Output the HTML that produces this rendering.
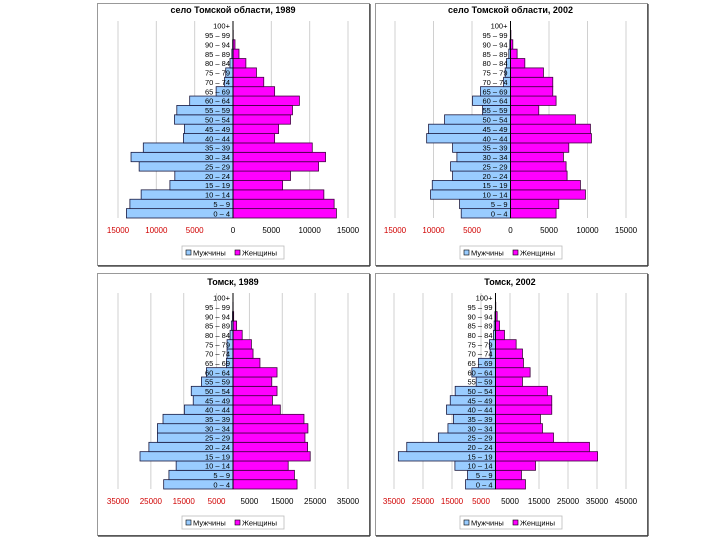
<!DOCTYPE html>
<html><head><meta charset="utf-8"><style>
html,body{margin:0;padding:0;background:#fff;}
svg{display:block;font-family:"Liberation Sans",sans-serif;}
</style></head><body>
<svg id="chart" width="720" height="540" viewBox="0 0 720 540"></svg>
<script>
const ageGroups = ["0 – 4","5 – 9","10 – 14","15 – 19","20 – 24","25 – 29","30 – 34","35 – 39","40 – 44","45 – 49","50 – 54","55 – 59","60 – 64","65 – 69","70 – 74","75 – 79","80 – 84","85 – 89","90 – 94","95 – 99","100+"];
const village1989Men   = [13900,13450,11980,8230,7590,12240,13300,11700,6470,6340,7630,7330,5650,2200,1100,950,400,150,50,0,0];
const village1989Women = [13490,13190,11850,6470,7500,11160,12070,10340,5430,5950,7500,7760,8660,5430,4010,3060,1680,780,260,30,0];
const village2002Men   = [6400,6610,10380,10160,7520,7780,6960,7520,10890,10640,8560,3630,4930,3890,900,690,520,220,90,20,0];
const village2002Women = [5920,6270,9730,9080,7350,7220,6870,7570,10510,10380,8430,3670,5920,5490,5490,4280,1860,860,300,50,0];
const tomsk1989Men     = [21100,19500,17300,28300,25600,23000,23000,21300,14800,12100,12700,9600,8100,2000,1800,1800,900,500,150,50,0];
const tomsk1989Women   = [19500,18700,16800,23500,22700,21900,22800,21600,14400,12000,13400,11800,13400,8200,6100,5600,2800,1100,200,50,0];
const tomsk2002Men     = [10330,9640,14000,33500,30600,19700,16400,14500,16900,15600,13900,6660,8150,5850,1840,2070,690,460,200,50,0];
const tomsk2002Women   = [10330,8950,13800,35200,32400,20000,16200,15500,19400,19400,17900,9300,11940,9640,9300,7120,3100,1380,570,100,0];
const ticks15 = [-15000,-10000,-5000,0,5000,10000,15000];
const ticks35 = [-35000,-25000,-15000,-5000,5000,15000,25000,35000];
const ticks45 = [-35000,-25000,-15000,-5000,5000,15000,25000,35000,45000];

const panels = [
 {name:"village-1989",title:"село Томской области, 1989",box:[97,3,272,262],px:[118,348],py:[21,218],dom:[-15000,15000],ticks:ticks15,men:village1989Men,women:village1989Women},
 {name:"village-2002",title:"село Томской области, 2002",box:[375,3,272,262],px:[395,626],py:[21,218],dom:[-15000,15000],ticks:ticks15,men:village2002Men,women:village2002Women},
 {name:"tomsk-1989",title:"Томск, 1989",box:[97,273,272,262],px:[118,348],py:[293,489],dom:[-35000,35000],ticks:ticks35,men:tomsk1989Men,women:tomsk1989Women},
 {name:"tomsk-2002",title:"Томск, 2002",box:[375,273,272,262],px:[394,626],py:[293,489],dom:[-35000,45000],ticks:ticks45,men:tomsk2002Men,women:tomsk2002Women}
];
const NS="http://www.w3.org/2000/svg";
const svg=document.getElementById('chart');
function mk(tag,attrs,parent){const e=document.createElementNS(NS,tag);for(const k in attrs)e.setAttribute(k,attrs[k]);(parent||svg).appendChild(e);return e;}

panels.forEach(p=>{
  const g=mk('g',{});
  
  
  const [bx,by,bw,bh]=p.box;
  const frame=mk('rect',{x:bx+0.5,y:by+0.5,width:bw,height:bh,fill:'#fff',stroke:'#999','stroke-width':1},g);
  
  
  mk('line',{x1:bx+1,y1:by+bh+1,x2:bx+bw+1,y2:by+bh+1,stroke:'#333','stroke-width':1.2},g);
  mk('line',{x1:bx+bw+1,y1:by+1,x2:bx+bw+1,y2:by+bh+1,stroke:'#333','stroke-width':1.2},g);
  const xs=v=>p.px[0]+(v-p.dom[0])/(p.dom[1]-p.dom[0])*(p.px[1]-p.px[0]);
  const n=ageGroups.length;
  const rowH=(p.py[1]-p.py[0])/n;
  const ys=i=>p.py[1]-(i+1)*rowH;
  const t=mk('text',{x:(p.px[0]+p.px[1])/2,y:p.py[0]-8,'text-anchor':'middle','font-size':9,'font-weight':'bold',fill:'#000'},g);
  t.textContent=p.title;
  
  
  p.ticks.forEach(v=>{
    const x=xs(v);
    const gl=mk('line',{x1:x,y1:p.py[0],x2:x,y2:p.py[1],stroke:'#d0d0d0','stroke-width':1},g);
    
    
    const tl=mk('text',{x:x,y:p.py[1]+15,'text-anchor':'middle','font-size':8,fill:v<0?'#d00000':'#000'},g);
    tl.textContent=String(Math.abs(v));
    
    
  });
  const x0=xs(0);
  ageGroups.forEach((a,i)=>{
    const m=p.men[i], w=p.women[i];
    if(m>0){
      const r=mk('rect',{x:xs(-m),y:ys(i),width:x0-xs(-m),height:rowH,fill:'#99ccff',stroke:'#1a1a40','stroke-width':0.8},g);
      
      
    }
    if(w>0){
      const r=mk('rect',{x:x0,y:ys(i),width:xs(w)-x0,height:rowH,fill:'#ff00ff',stroke:'#400040','stroke-width':0.8},g);
      
      
    }
  });
  mk('line',{x1:x0,y1:p.py[0],x2:x0,y2:p.py[1],stroke:'#000','stroke-width':1},g);
  ageGroups.forEach((a,i)=>{
    const l=mk('text',{x:x0-3,y:ys(i)+rowH/2+3,'text-anchor':'end','font-size':7.5,fill:'#000'},g);
    l.textContent=a;
    
    
  });
  const cx=(bx+bx+bw)/2;
  const ly=by+bh-19;
  const lg=mk('g',{},g);
  
  
  mk('rect',{x:cx-51,y:ly,width:102,height:13,fill:'#fff',stroke:'#bbb','stroke-width':0.8},lg);
  const s1=mk('rect',{x:cx-47,y:ly+4,width:5,height:5,fill:'#99ccff',stroke:'#000','stroke-width':0.6},lg);
  
  
  const t1=mk('text',{x:cx-40,y:ly+9.5,'font-size':7.5,fill:'#000'},lg);t1.textContent='Мужчины';
  const s2=mk('rect',{x:cx+2,y:ly+4,width:5,height:5,fill:'#ff00ff',stroke:'#000','stroke-width':0.6},lg);
  
  
  const t2=mk('text',{x:cx+9,y:ly+9.5,'font-size':7.5,fill:'#000'},lg);t2.textContent='Женщины';
});
</script>
</body></html>
